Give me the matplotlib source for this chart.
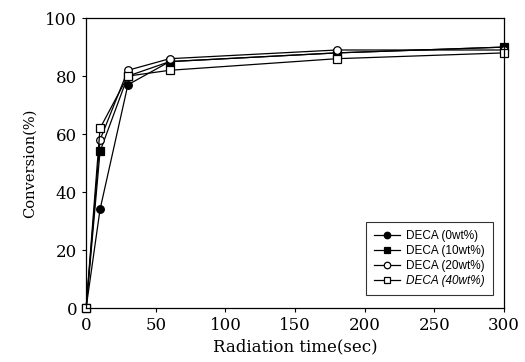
import numpy as np
import matplotlib
matplotlib.use("Agg")
import matplotlib.pyplot as plt

# tiempos de radiación (s) y conversión (%)
tiempo = [0, 10, 30, 60, 180, 300]
deca_0 = [0, 34, 77, 85, 88, 90]
deca_10 = [0, 54, 80, 85, 88, 90]
deca_20 = [0, 58, 82, 86, 89, 89]
deca_40 = [0, 62, 80, 82, 86, 88]
etiquetas = ["DECA (0wt%)", "DECA (10wt%)", "DECA (20wt%)", "DECA (40wt%)"]

fig = plt.figure(figsize=(5.25, 3.62), dpi=100)
ax = fig.add_axes([0.164, 0.149, 0.796, 0.801])

estilos = [
    dict(marker="o", mfc="black"),
    dict(marker="s", mfc="black"),
    dict(marker="o", mfc="white"),
    dict(marker="s", mfc="white"),
]
series = [deca_0, deca_10, deca_20, deca_40]
for y, lab, st in zip(series, etiquetas, estilos):
    ax.plot(tiempo, y, color="black", lw=0.9, ms=5.5, mec="black", mew=0.9,
            label=lab, clip_on=False, **st)

ax.set_xlim(0, 300)
ax.set_ylim(0, 100)
ax.set_xticks(np.arange(0, 301, 50))
ax.set_yticks(np.arange(0, 101, 20))
ax.tick_params(direction="out", length=3, width=0.8, top=False, right=False,
               labelsize=12)
for lbl in ax.get_xticklabels() + ax.get_yticklabels():
    lbl.set_family("DejaVu Serif")
for s in ax.spines.values():
    s.set_linewidth(0.9)

ax.set_xlabel("Radiation time(sec)", family="DejaVu Serif", fontsize=12, labelpad=3)
ax.set_ylabel("Conversion(%)", family="DejaVu Serif", fontsize=10.5, labelpad=6)

leg = ax.legend(loc="lower right", bbox_to_anchor=(0.974, 0.045),
                borderaxespad=0,
                prop={"family": "Liberation Sans", "size": 8.5},
                frameon=True, fancybox=False, edgecolor="black",
                handlelength=2.2, handletextpad=0.5, labelspacing=0.25,
                borderpad=0.7, markerscale=0.85)
leg.get_frame().set_linewidth(0.8)
leg.get_texts()[3].set_style("italic")

plt.savefig("out.png", dpi=100)
